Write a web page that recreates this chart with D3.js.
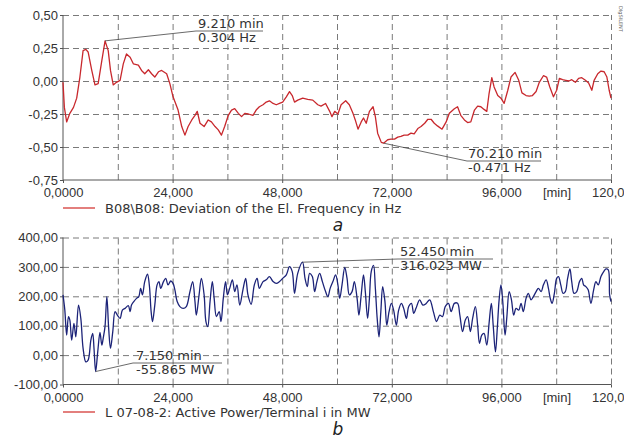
<!DOCTYPE html>
<html>
<head>
<meta charset="utf-8">
<script src="https://cdn.jsdelivr.net/npm/d3@7"></script>
<style>
  body { margin: 0; background: #fff; }
  svg { display: block; font-family: "DejaVu Sans", Verdana, sans-serif; }
  .grid line { stroke: #7a7a7a; stroke-dasharray: 6,4; stroke-width: 1; }
  .grid path { display: none; }
  .axis path, .axis line { stroke: #555; }
  .axis text { font-size: 13px; fill: #333; }
  .note text { font-size: 13px; fill: #333; }
</style>
</head>
<body>
<div id="container"></div>
<script>
const width = 624;
const height = 441;

// x axis (minutes)
const timeTicks = [0, 24, 48, 72, 96, 120];
const timeTickLabels = ["0,0000", "24,000", "48,000", "72,000", "96,000", "120,0"];
const timeGrid = [12, 24, 36, 48, 60, 72, 84, 96, 108, 120];

// a) frequency deviation
const freqTicks = [-0.75, -0.5, -0.25, 0, 0.25, 0.5];
const freqTickLabels = ["-0,75", "-0,50", "-0,25", "0,00", "0,25", "0,50"];
const freqTime = [0, 0.3, 0.8, 1.5, 2.3, 3.0, 3.7, 4.4, 5.0, 5.5, 6.3, 7.0, 7.7, 8.5, 9.21, 9.9, 10.4, 11.0, 11.7, 12.5,
  13.2, 13.9, 14.7, 15.4, 16.5, 17.2, 17.9, 18.7, 19.4, 20.1, 20.9, 21.6, 22.7, 23.4, 24.1, 25.2, 26.0, 26.7, 27.4, 28.2,
  28.9, 29.4, 30.0, 30.9, 31.8, 32.5, 33.3, 34.0, 34.7, 35.4, 36.2, 36.9, 37.6, 38.4, 39.1, 39.8, 40.6, 41.6, 42.3, 43.0,
  43.8, 44.5, 45.2, 46.0, 46.7, 47.4, 48.1, 48.9, 49.6, 50.2, 50.7, 51.4, 52.5, 53.6, 54.7, 55.8, 56.5, 57.5, 58.4, 58.9,
  59.5, 60.2, 60.9, 61.9, 62.7, 63.5, 64.0, 64.6, 65.3, 65.8, 66.4, 67.1, 67.9, 68.4, 68.9, 69.7, 70.21, 71.1, 71.8, 72.6,
  73.3, 74.0, 74.7, 75.5, 76.2, 76.9, 77.7, 78.4, 79.2, 79.9, 80.6, 81.3, 82.0, 83.0, 83.9, 84.6, 85.7, 86.4, 87.1, 87.9,
  88.6, 89.3, 90.1, 90.8, 91.5, 92.2, 92.8, 93.3, 93.9, 94.4, 95.2, 95.9, 96.6, 97.4, 98.1, 99.0, 99.8, 100.5, 101.4, 102.1,
  102.8, 103.6, 104.3, 105.2, 105.9, 106.6, 107.4, 108.1, 108.7, 109.4, 110.1, 110.8, 111.4, 112.2, 112.9, 113.6, 114.4, 115.1, 115.8, 116.3,
  117.1, 117.8, 118.5, 119.1, 119.6, 120];
const freqValue = [-0.01, -0.2, -0.31, -0.245, -0.2, -0.13, 0.03, 0.23, 0.24, 0.22, 0.08, -0.03, -0.02, 0.155, 0.304, 0.23, 0.08, -0.03, -0.01, 0.005,
  0.13, 0.205, 0.18, 0.13, 0.12, 0.08, 0.055, 0.085, 0.055, 0.03, 0.07, 0.08, 0.055, -0.02, -0.12, -0.22, -0.345, -0.41, -0.345, -0.295,
  -0.26, -0.23, -0.32, -0.345, -0.295, -0.31, -0.345, -0.37, -0.41, -0.345, -0.26, -0.22, -0.21, -0.245, -0.27, -0.245, -0.25, -0.26, -0.22, -0.195,
  -0.18, -0.16, -0.15, -0.17, -0.18, -0.17, -0.16, -0.12, -0.08, -0.11, -0.16, -0.145, -0.13, -0.14, -0.145, -0.18, -0.19, -0.17, -0.23, -0.27,
  -0.23, -0.25, -0.18, -0.15, -0.18, -0.245, -0.295, -0.365, -0.31, -0.28, -0.32, -0.23, -0.195, -0.27, -0.395, -0.465, -0.471, -0.445, -0.44, -0.44,
  -0.425, -0.42, -0.41, -0.41, -0.395, -0.4, -0.36, -0.345, -0.32, -0.29, -0.29, -0.32, -0.34, -0.365, -0.31, -0.245, -0.21, -0.195, -0.26, -0.295,
  -0.315, -0.31, -0.22, -0.19, -0.195, -0.215, -0.23, -0.095, 0.025, -0.045, -0.11, -0.13, -0.17, -0.07, 0.03, 0.065, 0.005, -0.09, -0.11, -0.115,
  -0.11, -0.08, -0.01, 0.04, 0.03, -0.045, -0.12, -0.07, 0.02, 0.01, 0.005, 0, 0.01, -0.01, 0.02, 0.025, 0.005, -0.015, -0.07, 0.005,
  0.055, 0.075, 0.07, 0.03, -0.07, -0.13];

// b) active power
const powerTicks = [-100, 0, 100, 200, 300, 400];
const powerTickLabels = ["-100,00", "0,00", "100,00", "200,00", "300,00", "400,00"];
const powerTime = [0, 0.4, 0.8, 1.2, 1.5, 1.9, 2.4, 2.8, 3.4, 3.9, 4.4, 5.0, 5.5, 6.1, 6.5, 6.8, 7.15, 7.6, 8.1, 8.5,
  8.8, 9.2, 9.6, 10.0, 10.4, 10.9, 11.4, 11.9, 12.5, 13.0, 13.6, 14.3, 14.7, 15.0, 15.5, 16.1, 16.6, 17.0, 17.4, 17.9,
  18.5, 18.9, 19.3, 19.6, 20.1, 20.6, 21.0, 21.4, 22.0, 22.5, 23.0, 23.6, 24.1, 24.5, 25.0, 25.6, 26.3, 27.0, 27.8, 28.4,
  28.9, 29.2, 29.8, 30.3, 30.9, 31.3, 31.7, 32.2, 32.7, 33.1, 33.6, 34.2, 34.6, 35.1, 35.6, 36.0, 36.5, 37.1, 37.6, 38.1,
  38.7, 39.4, 40.0, 40.5, 41.2, 41.9, 42.5, 43.0, 43.8, 44.5, 45.2, 46.0, 46.7, 47.4, 48.1, 48.9, 49.6, 50.2, 50.7, 51.4,
  52.45, 53.0, 53.5, 54.0, 54.6, 55.1, 55.6, 56.2, 56.8, 57.5, 58.0, 58.5, 59.1, 59.7, 60.2, 60.6, 61.1, 61.7, 62.2, 62.7,
  63.3, 63.8, 64.4, 64.8, 65.3, 65.8, 66.2, 66.7, 67.1, 67.5, 68.0, 68.4, 68.8, 69.2, 69.6, 70.0, 70.5, 70.9, 71.4, 71.9,
  72.4, 73.0, 73.5, 74.1, 74.6, 75.2, 75.7, 76.3, 76.8, 77.3, 78.1, 78.8, 79.5, 80.3, 81.1, 81.8, 82.5, 83.1, 83.7, 84.4,
  85.0, 85.7, 86.4, 86.9, 87.5, 88.1, 88.6, 89.2, 89.7, 90.3, 90.8, 91.2, 91.7, 92.2, 92.8, 93.3, 93.8, 94.2, 94.7, 95.1,
  95.5, 95.9, 96.3, 96.8, 97.2, 97.7, 98.2, 98.7, 99.2, 99.8, 100.3, 100.8, 101.4, 101.9, 102.5, 103.0, 103.6, 104.1, 104.7, 105.2,
  105.8, 106.3, 106.7, 107.1, 107.6, 108.1, 108.5, 109.0, 109.5, 110.0, 110.5, 111.0, 111.4, 111.9, 112.5, 113.1, 113.6, 114.0, 114.5, 115.0,
  115.6, 116.2, 116.7, 117.2, 117.8, 118.4, 118.9, 119.4, 119.7, 120];
const powerValue = [205, 153, 68, 131, 119, 51, 108, 62, 170, 125, 23, -23, -17, 51, 74, 20, -56, 10, 77, 34,
  57, 97, 199, 91, 23, 80, 148, 136, 125, 153, 159, 168, 148, 170, 182, 193, 199, 227, 205, 250,
  275, 239, 148, 114, 170, 239, 250, 227, 250, 261, 239, 252, 244, 222, 182, 165, 159, 165, 216, 250,
  182, 136, 205, 261, 205, 114, 97, 182, 250, 193, 131, 148, 114, 193, 250, 205, 227, 256, 216, 239,
  170, 222, 261, 205, 173, 239, 261, 227, 250, 256, 267, 250, 244, 250, 261, 273, 301, 284, 210, 278,
  316, 261, 233, 278, 267, 216, 250, 278, 250, 216, 199, 227, 250, 273, 239, 193, 239, 298, 261, 205,
  216, 250, 193, 136, 205, 273, 216, 125, 193, 284, 305, 227, 125, 62, 148, 233, 182, 102, 148, 176,
  153, 102, 153, 176, 159, 125, 165, 176, 142, 159, 188, 170, 175, 188, 148, 114, 136, 131, 165, 176,
  148, 176, 176, 136, 80, 119, 131, 80, 125, 165, 102, 40, 68, 74, 34, 108, 176, 102, 11, 91,
  188, 239, 182, 68, 131, 216, 188, 136, 159, 153, 176, 148, 193, 210, 188, 199, 216, 227, 216, 239,
  256, 227, 193, 176, 210, 261, 267, 239, 210, 216, 261, 293, 250, 210, 216, 250, 261, 239, 233, 222,
  176, 222, 250, 239, 267, 284, 293, 290, 205, 182];

const svg = d3.select("#container")
  .append("svg")
  .attr("width", width)
  .attr("height", height);

const x = d3.scaleLinear().domain([0, 120]).range([63, 611]);

function drawPanel(opts) {
  const y = d3.scaleLinear().domain(opts.domain).range(opts.range);
  const top = opts.range[1], bottom = opts.range[0];
  const g = svg.append("g");

  // dashed grid
  g.append("g")
    .attr("class", "grid")
    .attr("transform", `translate(0,${bottom})`)
    .call(d3.axisBottom(x).tickValues(timeGrid).tickSize(-(bottom - top)).tickFormat(""));
  g.append("g")
    .attr("class", "grid")
    .attr("transform", `translate(${x(0)},0)`)
    .call(d3.axisLeft(y).tickValues(opts.ticks.slice(1)).tickSize(-(x(120) - x(0))).tickFormat(""));

  // axes
  const xAxis = g.append("g")
    .attr("class", "axis")
    .attr("transform", `translate(0,${bottom})`)
    .call(d3.axisBottom(x).tickValues(timeTicks).tickSize(3).tickPadding(5)
      .tickFormat((d, i) => timeTickLabels[i]));
  xAxis.select(".domain").attr("d", `M${x(0)},0H${x(120)}`);
  // last label runs into the page edge, as in the original
  xAxis.selectAll(".tick text").filter(d => d === 120)
    .attr("text-anchor", "end")
    .attr("x", width - x(120));
  xAxis.append("text")
    .attr("x", 557).attr("y", 8).attr("dy", "0.71em")
    .attr("text-anchor", "middle")
    .text("[min]");

  const yAxis = g.append("g")
    .attr("class", "axis")
    .attr("transform", `translate(${x(0)},0)`)
    .call(d3.axisLeft(y).tickValues(opts.ticks).tickSize(3).tickPadding(2)
      .tickFormat((d, i) => opts.labels[i]));
  yAxis.select(".domain").attr("d", `M0,${top}V${bottom}`);

  // series
  const pts = opts.time.map((t, i) => [t, opts.values[i]]);
  g.append("path")
    .datum(pts)
    .attr("fill", "none")
    .attr("stroke", opts.color)
    .attr("stroke-width", 1.3)
    .attr("stroke-linejoin", "round")
    .attr("d", d3.line().x(d => x(d[0])).y(d => y(d[1])).curve(opts.curve));

  // min / max notes
  opts.notes.forEach(n => {
    const px = x(n.t), py = y(n.v);
    const note = g.append("g").attr("class", "note");
    note.append("path")
      .attr("fill", "none")
      .attr("stroke", "#444")
      .attr("stroke-width", 0.8)
      .attr("d", `M${px},${py}L${n.lx0},${n.ly}H${n.lx1}`);
    note.append("text").attr("x", n.tx).attr("y", n.ly - 3).text(n.top);
    note.append("text").attr("x", n.tx).attr("y", n.ly + 11).text(n.bottom);
  });

  // legend
  g.append("line")
    .attr("x1", 63).attr("x2", 95)
    .attr("y1", opts.legendY).attr("y2", opts.legendY)
    .attr("stroke", "#d43a36").attr("stroke-width", 1.3);
  g.append("text")
    .attr("x", 105).attr("y", opts.legendY + 5)
    .style("font-size", "13px").attr("fill", "#333")
    .text(opts.legend);

  g.append("text")
    .attr("x", 338).attr("y", opts.captionY)
    .attr("text-anchor", "middle")
    .style("font-size", "17px").style("font-style", "italic")
    .attr("fill", "#222")
    .text(opts.caption);
}

drawPanel({
  domain: [-0.75, 0.5], range: [180, 15],
  ticks: freqTicks, labels: freqTickLabels,
  time: freqTime, values: freqValue,
  color: "#c8282d", curve: d3.curveLinear,
  notes: [
    { t: 9.21, v: 0.304, lx0: 196, lx1: 263, ly: 31, tx: 198, top: "9.210 min", bottom: "0.304 Hz" },
    { t: 70.21, v: -0.471, lx0: 467, lx1: 541, ly: 161, tx: 468, top: "70.210 min", bottom: "-0.471 Hz" }
  ],
  legendY: 208, legend: "B08\\B08: Deviation of the El. Frequency in Hz",
  caption: "a", captionY: 231
});

drawPanel({
  domain: [-100, 400], range: [384.5, 237.5],
  ticks: powerTicks, labels: powerTickLabels,
  time: powerTime, values: powerValue,
  color: "#1c2378", curve: d3.curveCatmullRom,
  notes: [
    { t: 7.15, v: -55.865, lx0: 133, lx1: 222, ly: 363, tx: 136, top: "7.150 min", bottom: "-55.865 MW" },
    { t: 52.45, v: 316.023, lx0: 398, lx1: 493, ly: 259, tx: 400, top: "52.450 min", bottom: "316.023 MW" }
  ],
  legendY: 412, legend: "L 07-08-2: Active Power/Terminal i in MW",
  caption: "b", captionY: 435
});

// tiny vertical watermark at the top right
svg.append("text")
  .attr("transform", "translate(619,6) rotate(90)")
  .style("font-size", "5px").attr("fill", "#666")
  .text("DIgSILENT");
</script>
</body>
</html>
